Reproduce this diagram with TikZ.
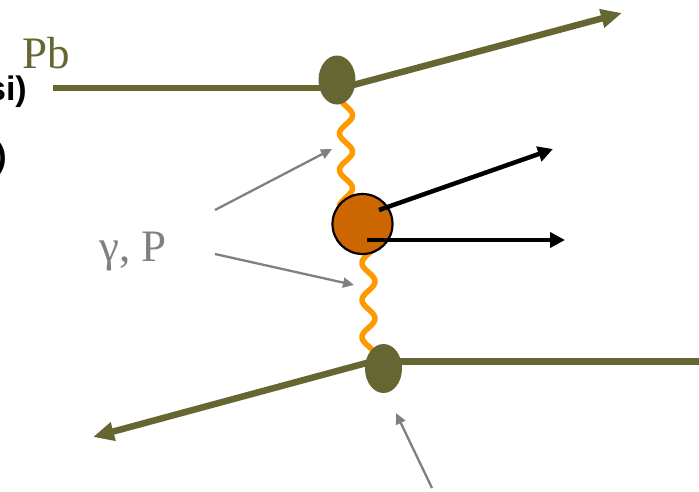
\documentclass[tikz,border=0pt]{standalone}
\usepackage{fontspec}
\setmainfont{Liberation Serif}
\newfontfamily\timesfont{Liberation Serif}
\newfontfamily\arialfont{Liberation Sans}
\usetikzlibrary{arrows.meta,shapes.geometric}
\definecolor{olivec}{HTML}{666633}
\definecolor{wavec}{HTML}{FF9900}
\definecolor{hadc}{HTML}{CC6600}
\definecolor{grayc}{HTML}{808080}
\tikzset{
  beamline/.style={draw=olivec, line width=6.5pt},
  beamarrow/.style={beamline, -{Triangle[length=21pt,width=18pt]}},
  blob/.style={ellipse, fill=olivec, draw=none, inner sep=0pt, minimum width=37pt, minimum height=49pt},
  hadron/.style={circle, fill=hadc, draw=black, line width=2.2pt, inner sep=0pt, minimum size=60pt},
  prodarrow/.style={draw=black, line width=4.5pt, -{Triangle[length=15pt,width=15pt]}},
  pointer/.style={draw=grayc, line width=2.3pt, -{Triangle[length=11pt,width=10pt]}},
  wave/.style={draw=wavec, line width=5.5pt},
  bigserif/.style={inner sep=0pt, font=\timesfont\fontsize{45}{48}\selectfont},
  sidetext/.style={inner sep=0pt, font=\arialfont\bfseries\fontsize{34}{36}\selectfont}
}
\begin{document}
\begin{tikzpicture}[x=1pt,y=-1pt]
\useasboundingbox (0,0) rectangle (699,491);

% exchange waves
\draw[wave, line cap=round] plot[domain=99:212, samples=120, smooth] ({346-6.5*cos(9.863*(\x-97))},\x);
\draw[wave, line cap=round] plot[domain=238:356, samples=120, smooth] ({368.5-6.5*cos(9.73*(\x-263))},\x);

% coordinates of beam lines
\coordinate (pbin) at (53,88);
\coordinate (tj) at (342,88);
\coordinate (pbout) at (622,13);
\coordinate (bj) at (372,361.5);
\coordinate (pbin2) at (699,361.5);
\coordinate (pbout2) at (93,437);

\draw[beamline] (pbin) -- (tj);
\draw[beamarrow] (tj) -- (pbout);
\draw[beamline] (bj) -- (pbin2);
\draw[beamarrow] (bj) -- (pbout2);

\node[blob] (top) at (337,80) {};
\node[blob] (bot) at (383.5,368.5) {};
\node[hadron] (X) at (362.5,224) {};

% produced particles
\coordinate (p1s) at (379,210);
\coordinate (p1e) at (553,149);
\coordinate (p2s) at (367,240);
\coordinate (p2e) at (565,240);
\draw[prodarrow] (p1s) -- (p1e);
\draw[prodarrow] (p2s) -- (p2e);

% gray pointers
\coordinate (g1s) at (215,210);
\coordinate (g1e) at (332,149);
\coordinate (g2s) at (215,254);
\coordinate (g2e) at (354,285);
\coordinate (g3s) at (432,488);
\coordinate (g3e) at (396,413);
\draw[pointer] (g1s) -- (g1e);
\draw[pointer] (g2s) -- (g2e);
\draw[pointer] (g3s) -- (g3e);

% texts
\node[bigserif, text=olivec, anchor=base west] (pb) at (22,68) {Pb};
\node[bigserif, text=grayc, anchor=base west] (gp) at (99,261) {γ, P};
\node[sidetext, anchor=base east] (t1) at (27,100) {si)};
\node[sidetext, anchor=base east] (t2) at (7,167) {)};
\end{tikzpicture}
\end{document}
